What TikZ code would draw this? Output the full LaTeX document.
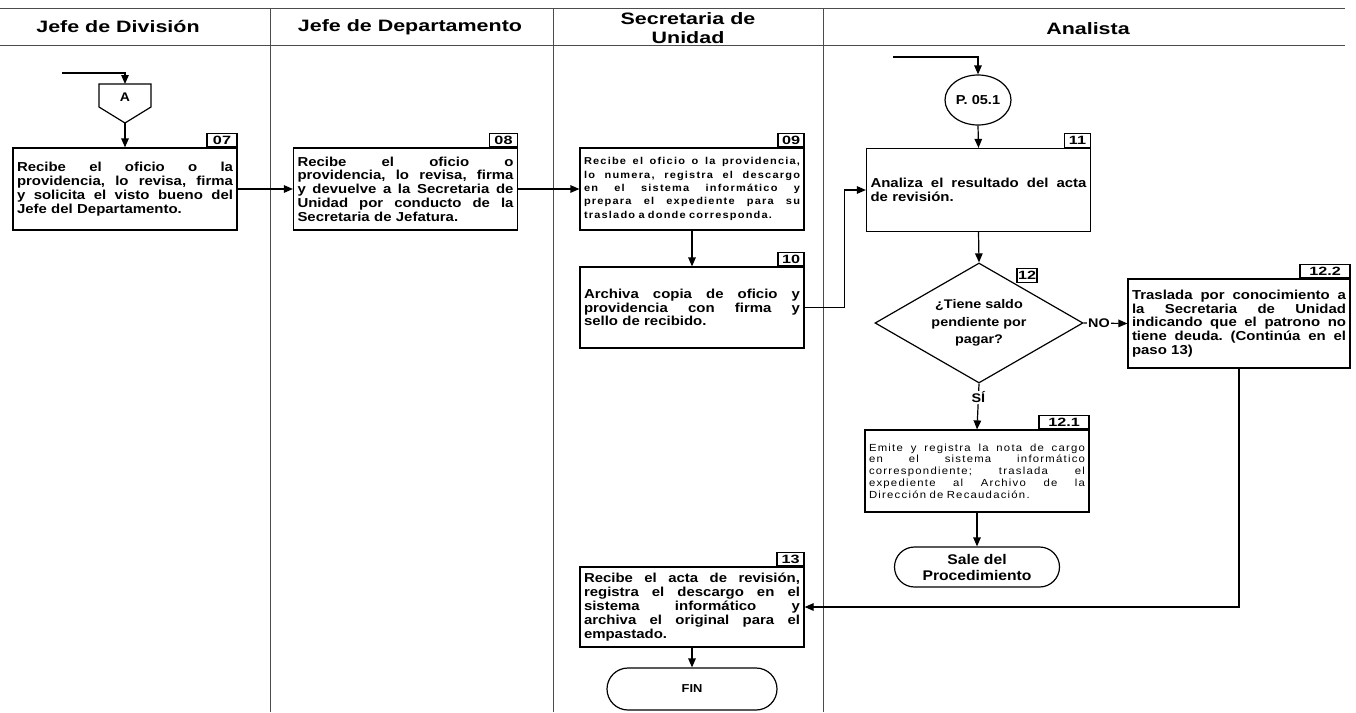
\documentclass[tikz,border=0pt]{standalone}
\usepackage{fontspec}
\setmainfont{Liberation Sans}[FakeStretch=1.15]
\newfontfamily\hdfont{Liberation Sans}[FakeStretch=1.3]
\newfontfamily\spfont{Liberation Sans}[FakeStretch=1.1,LetterSpace=12]
\newfontfamily\stfont{Liberation Sans}[FakeStretch=1.12]
\newfontfamily\numfont{Liberation Sans}[FakeStretch=1.35]
\usetikzlibrary{arrows.meta,shapes.geometric,calc}
\def\jlsplit#1 #2\jlend{#1\if\relax\detokenize{#2}\relax\else\hfill\jlsplit#2\jlend\fi}
\newcommand\JL[1]{\hbox to \hsize{\jlsplit#1 \jlend}\par}
\tikzset{
  lane/.style={line width=0.9pt, draw=black!70},
  hd/.style={font=\hdfont\bfseries\fontsize{16.5}{19}\selectfont, align=center, inner sep=0pt},
  proc/.style={draw, line width=1.2pt, minimum width=224pt, minimum height=82pt,
    text width=216pt, inner xsep=4pt, inner ysep=2pt,
    font=\bfseries\fontsize{13}{13.8}\selectfont},
  smallproc/.style={proc, font=\spfont\bfseries\fontsize{10}{13.3}\selectfont},
  lightproc/.style={proc, font=\spfont\fontsize{10.3}{11.8}\selectfont},
  num/.style={draw, line width=1.2pt, minimum height=13.5pt, inner sep=1pt,
    anchor=south east, font=\numfont\bfseries\fontsize{12}{12}\selectfont},
  term/.style={draw, line width=1.2pt, align=center, inner sep=0pt,
    font=\stfont\bfseries\fontsize{14}{16}\selectfont},
  arr/.style={-{Triangle[length=9pt,width=7.5pt]}, line width=1.2pt},
  lbl/.style={fill=white, inner sep=1pt, font=\bfseries\fontsize{12.5}{13}\selectfont}
}
\begin{document}
\begin{tikzpicture}[x=1pt,y=-1pt]
\useasboundingbox (0,0) rectangle (1356,712);
\fill[white] (0,0) rectangle (1356,712);
% swimlanes
\draw[lane] (0,8) -- (1345,8);
\draw[lane] (0,45) -- (1345,45);
\draw[lane] (270,8) -- (270,712);
\draw[lane] (553,8) -- (553,712);
\draw[lane] (823,8) -- (823,712);
\node[hd] (h1) at (118,27) {Jefe de División};
\node[hd] (h2) at (410,27) {Jefe de Departamento};
\node[hd] (h3) at (688,28) {Secretaria de\\Unidad};
\node[hd] (h4) at (1088,29) {Analista};

% connector A
\draw[line width=1.2pt] (99,84) -- (151,84) -- (151,107) -- (125,123) -- (99,107) -- cycle;
\node[font=\stfont\bfseries\fontsize{12.5}{13}\selectfont] (A) at (125,97) {A};
\coordinate (Atop) at (125,84);
\coordinate (Abot) at (125,123);
\coordinate (inA) at (62,73);

% boxes
\node[proc] (b07) at (125,189) {\JL{Recibe el oficio o la}\JL{providencia, lo revisa, firma}\JL{y solicita el visto bueno del}Jefe del Departamento.};
\node[num, minimum width=30pt] (n07) at (b07.north east) {07};

\node[proc] (b08) at (405.5,189) {\JL{Recibe el oficio o}\JL{providencia, lo revisa, firma}\JL{y devuelve a la Secretaria de}\JL{Unidad por conducto de la}Secretaria de Jefatura.};
\node[num, minimum width=28pt] (n08) at (b08.north east) {08};

\node[smallproc] (b09) at (692,189) {\JL{Recibe el oficio o la providencia,}\JL{lo numera, registra el descargo}\JL{en el sistema informático y}\JL{prepara el expediente para su}traslado a donde corresponda.};
\node[num, minimum width=26pt] (n09) at (b09.north east) {09};

\node[proc, minimum height=81pt] (b10) at (692,307.5) {\JL{Archiva copia de oficio y}\JL{providencia con firma y}sello de recibido.};
\node[num, minimum width=26pt] (n10) at (b10.north east) {10};

\node[term, ellipse, minimum width=66pt, minimum height=50pt, font=\stfont\bfseries\fontsize{13}{14}\selectfont] (P) at (978,100) {P. 05.1};
\coordinate (inP) at (893,57);

\node[proc, minimum height=83pt] (b11) at (978.5,190) {\JL{Analiza el resultado del acta}de revisión.};
\node[num, minimum width=26pt] (n11) at (b11.north east) {11};

\node[draw, line width=1.2pt, diamond, minimum width=208pt, minimum height=120pt, aspect=1.73, inner sep=0pt, align=center, font=\bfseries\fontsize{12.5}{17.5}\selectfont] (d12) at (979,323) {¿Tiene saldo\\pendiente por\\pagar?};
\node[draw, line width=1.2pt, minimum width=20pt, minimum height=13.5pt, inner sep=1pt, font=\numfont\bfseries\fontsize{12}{12}\selectfont] (n12) at (1027,275.5) {12};

\node[proc, minimum width=222pt, minimum height=89pt, text width=214pt] (b122) at (1239,323.5) {\JL{Traslada por conocimiento a}\JL{la Secretaria de Unidad}\JL{indicando que el patrono no}\JL{tiene deuda. (Continúa en el}paso 13)\par\vspace{10pt}};
\node[num, minimum width=50pt] (n122) at (b122.north east) {12.2};

\node[lightproc] (b121) at (977,471) {\JL{Emite y registra la nota de cargo}\JL{en el sistema informático}\JL{correspondiente; traslada el}\JL{expediente al Archivo de la}Dirección de Recaudación.\par\vspace{6pt}};
\node[num, minimum width=50pt] (n121) at (b121.north east) {12.1};

\node[term, rounded corners=20pt, minimum width=165pt, minimum height=40pt] (sale) at (977,567) {Sale del\\Procedimiento};

\node[proc, minimum height=80pt] (b13) at (692,607) {\JL{Recibe el acta de revisión,}\JL{registra el descargo en el}\JL{sistema informático y}\JL{archiva el original para el}empastado.};
\node[num, minimum width=27pt] (n13) at (b13.north east) {13};

\node[term, rounded corners=21pt, minimum width=170pt, minimum height=42pt, font=\stfont\bfseries\fontsize{11.5}{14}\selectfont] (fin) at (692,689) {FIN};

% connectors
\draw[arr] (inA) -| (Atop);
\draw[arr] (Abot) -- (b07.north);
\draw[arr] (b07.east) -- (b08.west);
\draw[arr] (b08.east) -- (b09.west);
\draw[arr] (b09.south) -- (b10.north);
\draw[arr] (b10.east) -- ($(b10.east)+(40,0)$) |- (b11.west);
\draw[arr] (inP) -| (P.north);
\draw[arr] (P.south) -- (b11.north);
\draw[arr] (b11.south) -- (d12.north);
\draw[arr] (d12.east) -- node[lbl, pos=0.35] {NO} (b122.west);
\draw[arr] (d12.south) -- node[lbl, pos=0.3] {SÍ} (b121.north);
\draw[arr] (b121.south) -- (sale.north);
\draw[arr] (b122.south) |- (b13.east);
\draw[arr] (b13.south) -- (fin.north);
\end{tikzpicture}
\end{document}
